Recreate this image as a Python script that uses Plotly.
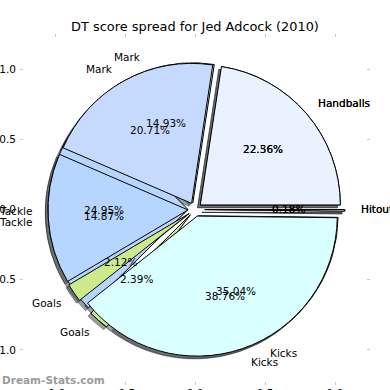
import math
import plotly.graph_objects as go

# ---------------- data ----------------
categories = ["Hitout", "Handballs", "Mark", "Tackle", "Goals", "Kicks"]
series_a = [0.18, 22.56, 14.93, 24.95, 2.39, 35.04]   # drawn underneath
series_b = [0.18, 22.36, 20.71, 14.87, 2.12, 38.76]   # drawn on top
slice_colors = ["#F4F6FF", "#EAF1FF", "#C6DAFF", "#B6D6FF", "#CCE98C", "#D9FFFF"]
explode = [0.07, 0.05, 0.05, 0.05, 0.05, 0.05]
tick_vals = [-1.0, -0.5, 0.0, 0.5, 1.0]
tick_text = ["-1.0", "-0.5", "0.0", "0.5", "1.0"]
title_text = "DT score spread for Jed Adcock (2010)"
watermark = "Dream-Stats.com"

# ---------------- layout geometry ----------------
W = H = 390
ML, MR, MT, MB = 20, 20, 34, 5
PW, PH = W - ML - MR, H - MT - MB
AX_HALF = 1.25            # axis half range (data units)
PX_PER_UNIT = PW / (2 * AX_HALF)
FONT = "DejaVu Sans"


def pie_domain(dx_px=0.0, dy_px=0.0):
    half = PX_PER_UNIT * (1 + max(explode))
    cx = 0.5 + dx_px / PW
    cy = 0.5 + dy_px / PH
    return dict(x=[cx - half / PW, cx + half / PW], y=[cy - half / PH, cy + half / PH])


def pie_trace(values, colors, line_color, dom):
    return go.Pie(
        labels=categories, values=values, sort=False,
        direction="counterclockwise", rotation=90,
        pull=explode, domain=dom,
        marker=dict(colors=colors, line=dict(color=line_color, width=1)),
        textinfo="none", hoverinfo="skip", showlegend=False,
    )


shadow_dom = pie_domain(-0.02 * PX_PER_UNIT, -0.02 * PX_PER_UNIT)
shadow_colors = ["rgba(60,64,72,0.5)"] * len(categories)

fig = go.Figure()
# empty cartesian trace so the axes (ticks) are drawn
fig.add_trace(go.Scatter(x=[], y=[], showlegend=False, hoverinfo="skip"))
fig.add_trace(pie_trace(series_a, shadow_colors, "rgba(0,0,0,0.35)", shadow_dom))
fig.add_trace(pie_trace(series_b, shadow_colors, "rgba(0,0,0,0.35)", shadow_dom))
fig.add_trace(pie_trace(series_a, slice_colors, "black", pie_domain()))
fig.add_trace(pie_trace(series_b, slice_colors, "black", pie_domain()))

annotations = []
for series in (series_a, series_b):
    total = sum(series)
    cum = 0.0
    for cat, v, ex in zip(categories, series, explode):
        mid = math.radians(360.0 * (cum + v / 2) / total)
        cum += v
        c, s = math.cos(mid), math.sin(mid)
        lx, ly = (1.1 + ex) * c, (1.1 + ex) * s
        annotations.append(dict(
            x=lx, y=ly, xref="x", yref="y", text=cat, showarrow=False,
            xanchor="left" if lx > 0 else "right", yanchor="middle",
            font=dict(family=FONT, size=10.5, color="black")))
        px_, py_ = (0.6 + ex) * c, (0.6 + ex) * s
        annotations.append(dict(
            x=px_, y=py_, xref="x", yref="y", text=f"{v:.2f}%", showarrow=False,
            xanchor="center", yanchor="middle",
            font=dict(family=FONT, size=10.5, color="black")))

# watermark, bottom-left corner of the image
annotations.append(dict(
    x=-ML / PW, y=(H - 380 - MB) / PH, xref="paper", yref="paper",
    text=f"<b>{watermark}</b>", showarrow=False, xanchor="left", yanchor="middle",
    font=dict(family=FONT, size=10.5, color="#9a9a9a")))

axis_common = dict(
    range=[-AX_HALF, AX_HALF], tickvals=tick_vals, ticktext=tick_text,
    showgrid=False, zeroline=False, showline=False,
    ticks="inside", ticklen=3, tickwidth=1, tickcolor="#c8c8c8",
    mirror="ticks", tickfont=dict(family=FONT, size=10.5, color="black"),
    fixedrange=True, automargin=False,
)

fig.update_layout(
    width=W, height=H,
    margin=dict(l=ML, r=MR, t=MT, b=MB, pad=0),
    paper_bgcolor="white", plot_bgcolor="white",
    xaxis=axis_common, yaxis=dict(axis_common, ticklabelstandoff=3),
    title=dict(text=title_text, x=0.5, xref="paper", xanchor="center",
               y=1 - 26 / H, yref="container", yanchor="middle",
               font=dict(family=FONT, size=12.9, color="black")),
    annotations=annotations,
    showlegend=False,
)

fig.write_html(
    "out.html",
    config={"displayModeBar": False},
    post_script="document.body.style.margin='0';document.body.style.overflow='hidden';",
)
